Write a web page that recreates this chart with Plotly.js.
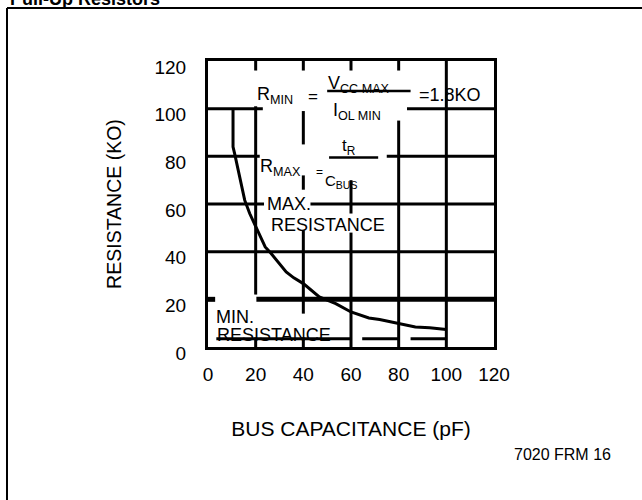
<!DOCTYPE html>
<html>
<head>
<meta charset="utf-8">
<script src="https://cdn.plot.ly/plotly-3.0.1.min.js"></script>
<style>
  html, body { margin: 0; padding: 0; background: #fff; }
  #chart { width: 642px; height: 500px; }
</style>
</head>
<body>
<div id="chart"></div>
<script>
// ---- data ----
const capacitance = [10.5, 10.5, 11.2, 14, 15.4, 17.5, 19.8, 22.4, 24, 26.5, 30, 32.8, 36, 40, 46.7, 53.6, 60, 67.5, 72, 80, 87, 93, 100];
const resistance  = [100, 84, 81, 68.6, 61.6, 56, 51, 44.8, 42, 39.2, 35, 31.5, 29, 26.6, 21, 18.2, 14.7, 12.2, 11.5, 9.8, 8.4, 8.1, 7.3];
const tickValues = [0, 20, 40, 60, 80, 100, 120];
const tickLabels = ["0", "20", "40", "60", "80", "100", "120"];

// ---- grid segments of the printed chart (value, from, to) ----
const hSegments = [[100,0,23],[100,83.5,120],[80,0,21.7],[80,75,120],[60,0,23.5],[60,43,120],[40,0,120],
                   [3.5,3.5,59.8],[3.5,64.7,80],[3.5,85,100]];
const hThick = [[20,0,3],[20,20.3,120]];
const vSegments = [[20,116,120],[20,22,101],[20,0,4],
                   [40,116,120],[40,85,99],[40,66,72],[40,14,49],[40,0,4],
                   [60,116,120],[60,56,70],[60,0,48],
                   [80,116,120],[80,0,95],
                   [100,0,120]];
const fractionBars = [[107.4,50,85],[79.5,50.8,71.4]];

const shapes = [];
hSegments.forEach(s => shapes.push({type:'line', xref:'x', yref:'y', x0:s[1], x1:s[2], y0:s[0], y1:s[0], line:{color:'#000', width:3}}));
hThick.forEach(s => shapes.push({type:'line', xref:'x', yref:'y', x0:s[1], x1:s[2], y0:s[0], y1:s[0], line:{color:'#000', width:5}}));
vSegments.forEach(s => shapes.push({type:'line', xref:'x', yref:'y', x0:s[0], x1:s[0], y0:s[1], y1:s[2], line:{color:'#000', width:3}}));
fractionBars.forEach(s => shapes.push({type:'line', xref:'x', yref:'y', x0:s[1], x1:s[2], y0:s[0], y1:s[0], line:{color:'#000', width:2.5}}));
// outer page frame (top and left rule)
shapes.push({type:'line', xref:'paper', yref:'paper', x0:-0.7028, x1:1.53, y0:1.1853, y1:1.1853, line:{color:'#000', width:2}});
shapes.push({type:'line', xref:'paper', yref:'paper', x0:-0.7028, x1:-0.7028, y0:1.1853, y1:-0.56, line:{color:'#000', width:2}});

const F = 'Liberation Sans, Arial, Helvetica, sans-serif';
function ann(text, x, y, size, xanchor) {
  return {text:text, x:x, y:y, xref:'x', yref:'y', showarrow:false,
          xanchor:xanchor || 'center', yanchor:'middle', font:{family:F, size:size, color:'#000'}};
}
const annotations = [
  ann('R<sub>MIN</sub>', 28, 105.6, 18),
  ann('=', 44, 105, 17),
  ann('V<sub>CC MAX</sub>', 63.3, 110.3, 18),
  ann('I<sub>OL MIN</sub>', 62.5, 99, 18),
  ann('=1.8KO', 101.5, 105.6, 18),
  ann('R<sub>MAX</sub>', 30.4, 75.5, 18),
  ann('=', 46.7, 73.4, 12),
  ann('t<sub>R</sub>', 59.2, 84, 17),
  ann('C<sub>BUS</sub>', 55.7, 69.5, 15),
  ann('MAX.', 23.8, 60.2, 18, 'left'),
  ann('RESISTANCE', 25.4, 51, 18, 'left'),
  ann('MIN.', 2.6, 12.6, 18, 'left'),
  ann('RESISTANCE', 3.1, 5, 18, 'left'),
  {text:'<b>Pull-Up Resistors</b>', xref:'paper', yref:'paper', x:-0.6993, y:1.218, xanchor:'left', yanchor:'middle',
   showarrow:false, font:{family:F, size:18, color:'#000'}},
  {text:'7020 FRM 16', xref:'paper', yref:'paper', x:1.2378, y:-0.3776, xanchor:'center', yanchor:'middle',
   showarrow:false, font:{family:F, size:16, color:'#000'}}
];

const trace = {
  x: capacitance, y: resistance, type:'scatter', mode:'lines',
  line:{color:'#000', width:3}, hoverinfo:'skip', showlegend:false
};

const axisCommon = {
  range:[0,120], tickvals:tickValues, ticktext:tickLabels, ticks:'', showgrid:false, zeroline:false,
  showline:true, mirror:true, linecolor:'#000', linewidth:3,
  tickfont:{family:F, size:19, color:'#000'}
};

const layout = {
  width:642, height:500,
  margin:{l:208, r:148, t:61, b:153, pad:0},
  paper_bgcolor:'#fff', plot_bgcolor:'#fff',
  font:{family:F, color:'#000'},
  showlegend:false,
  xaxis: Object.assign({}, axisCommon, {
    ticklabelstandoff:8,
    title:{text:'BUS CAPACITANCE (pF)', font:{family:F, size:21, color:'#000'}, standoff:38}
  }),
  yaxis: Object.assign({}, axisCommon, {
    ticklabelstandoff:15, ticklabelshift:6,
    title:{text:'RESISTANCE (KO)', font:{family:F, size:19.5, color:'#000'}, standoff:28}
  }),
  shapes:shapes,
  annotations:annotations
};

Plotly.newPlot('chart', [trace], layout, {staticPlot:true, displayModeBar:false});
</script>
</body>
</html>
